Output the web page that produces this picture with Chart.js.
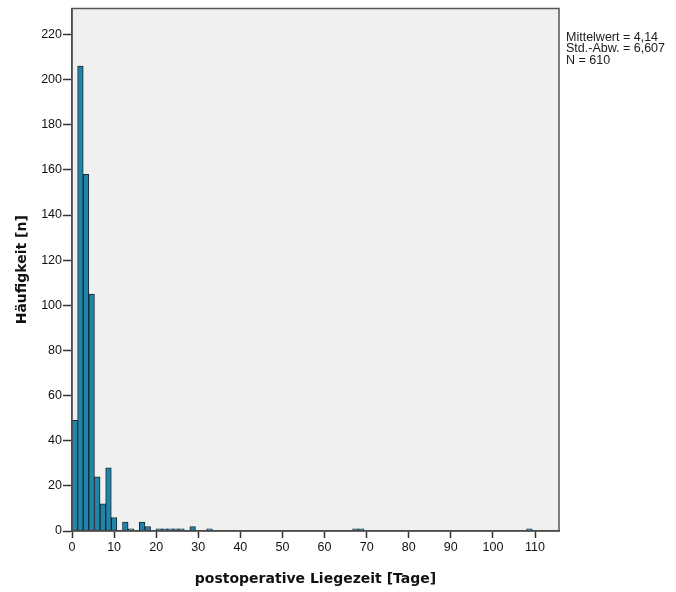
<!DOCTYPE html>
<html>
<head>
<meta charset="utf-8">
<script src="https://cdn.jsdelivr.net/npm/chart.js@4"></script>
<style>
  html, body { margin: 0; padding: 0; background: #fff; }
  #wrap { width: 676px; height: 592px; }
</style>
</head>
<body>
<div id="wrap"><canvas id="histChart"></canvas></div>
<script>
// histogram bins: width in days, index of each non-empty bin and its count
const binWidth = 4 / 3;
const binIndex = [0, 1, 2, 3, 4, 5, 6, 7, 9, 10, 12, 13, 15, 16, 17, 18, 19, 21, 24, 50, 51, 81];
const counts = [49, 206, 158, 105, 24, 12, 28, 6, 4, 1, 4, 2, 1, 1, 1, 1, 1, 2, 1, 1, 1, 1];

const xTicks = [0, 10, 20, 30, 40, 50, 60, 70, 80, 90, 100, 110];
const yTicks = [0, 20, 40, 60, 80, 100, 120, 140, 160, 180, 200, 220];
const statsLines = ['Mittelwert = 4,14', 'Std.-Abw. = 6,607', 'N = 610'];

const points = binIndex.map((b, i) => ({ x: (b + 0.5) * binWidth, y: counts[i] }));

// grey plot background, frame and the statistics box on the right
const framePlugin = {
    id: 'frame',
    beforeDraw(chart) {
        const { ctx, chartArea: a } = chart;
        ctx.save();
        ctx.fillStyle = '#f0f0f0';
        ctx.fillRect(a.left, a.top, a.right - a.left, a.bottom - a.top);
        ctx.restore();
    },
    afterDraw(chart) {
        const { ctx, chartArea: a } = chart;
        ctx.save();
        ctx.strokeStyle = '#555';
        ctx.lineWidth = 1.5;
        ctx.strokeRect(a.left, a.top, a.right - a.left, a.bottom - a.top);
        ctx.fillStyle = '#1a1a1a';
        ctx.font = '12.5px "Liberation Sans", Arial, sans-serif';
        ctx.textBaseline = 'middle';
        statsLines.forEach((t, i) => ctx.fillText(t, a.right + 7, 37.5 + i * 11.5));
        ctx.restore();
    }
};

const ctx = document.getElementById('histChart').getContext('2d');

let histChart = new Chart(ctx, {
    type: 'bar',
    data: {
        datasets: [{
            data: points,
            backgroundColor: '#2185aa',
            borderColor: '#18262d',
            borderWidth: 1,
            borderSkipped: false,
            barPercentage: 1,
            categoryPercentage: 1
        }]
    },
    options: {
        responsive: true,
        maintainAspectRatio: false,
        animation: false,
        layout: { padding: { top: 6, right: 117, left: 0, bottom: 0 } },
        plugins: {
            legend: { display: false },
            tooltip: { enabled: false }
        },
        scales: {
            x: {
                type: 'linear',
                offset: false,
                min: 0,
                max: 115.7,
                afterBuildTicks: s => { s.ticks = xTicks.map(v => ({ value: v })); },
                afterFit: s => { s.height = 61; },
                grid: { offset: false, drawOnChartArea: false, tickLength: 7, color: '#333', tickWidth: 1.5 },
                border: { color: '#333', width: 1.5 },
                ticks: {
                    padding: 2,
                    color: '#111',
                    font: { family: '"Liberation Sans", Arial, sans-serif', size: 12.5 },
                    maxRotation: 0
                },
                title: {
                    display: true,
                    text: 'postoperative Liegezeit [Tage]',
                    color: '#111',
                    font: { family: '"DejaVu Sans", sans-serif', size: 14, weight: 'bold' },
                    padding: { top: 8 }
                }
            },
            y: {
                min: 0,
                max: 231.5,
                afterBuildTicks: s => { s.ticks = yTicks.map(v => ({ value: v })); },
                afterFit: s => { s.width = 72; },
                grid: { drawOnChartArea: false, tickLength: 9, color: '#333', tickWidth: 1.5 },
                border: { color: '#333', width: 1.5 },
                ticks: {
                    padding: 1,
                    color: '#111',
                    font: { family: '"Liberation Sans", Arial, sans-serif', size: 12.5 }
                },
                title: {
                    display: true,
                    text: 'Häufigkeit [n]',
                    color: '#111',
                    font: { family: '"DejaVu Sans", sans-serif', size: 14, weight: 'bold' },
                    padding: { top: 14, bottom: 0 }
                }
            }
        }
    },
    plugins: [framePlugin]
});
</script>
</body>
</html>
